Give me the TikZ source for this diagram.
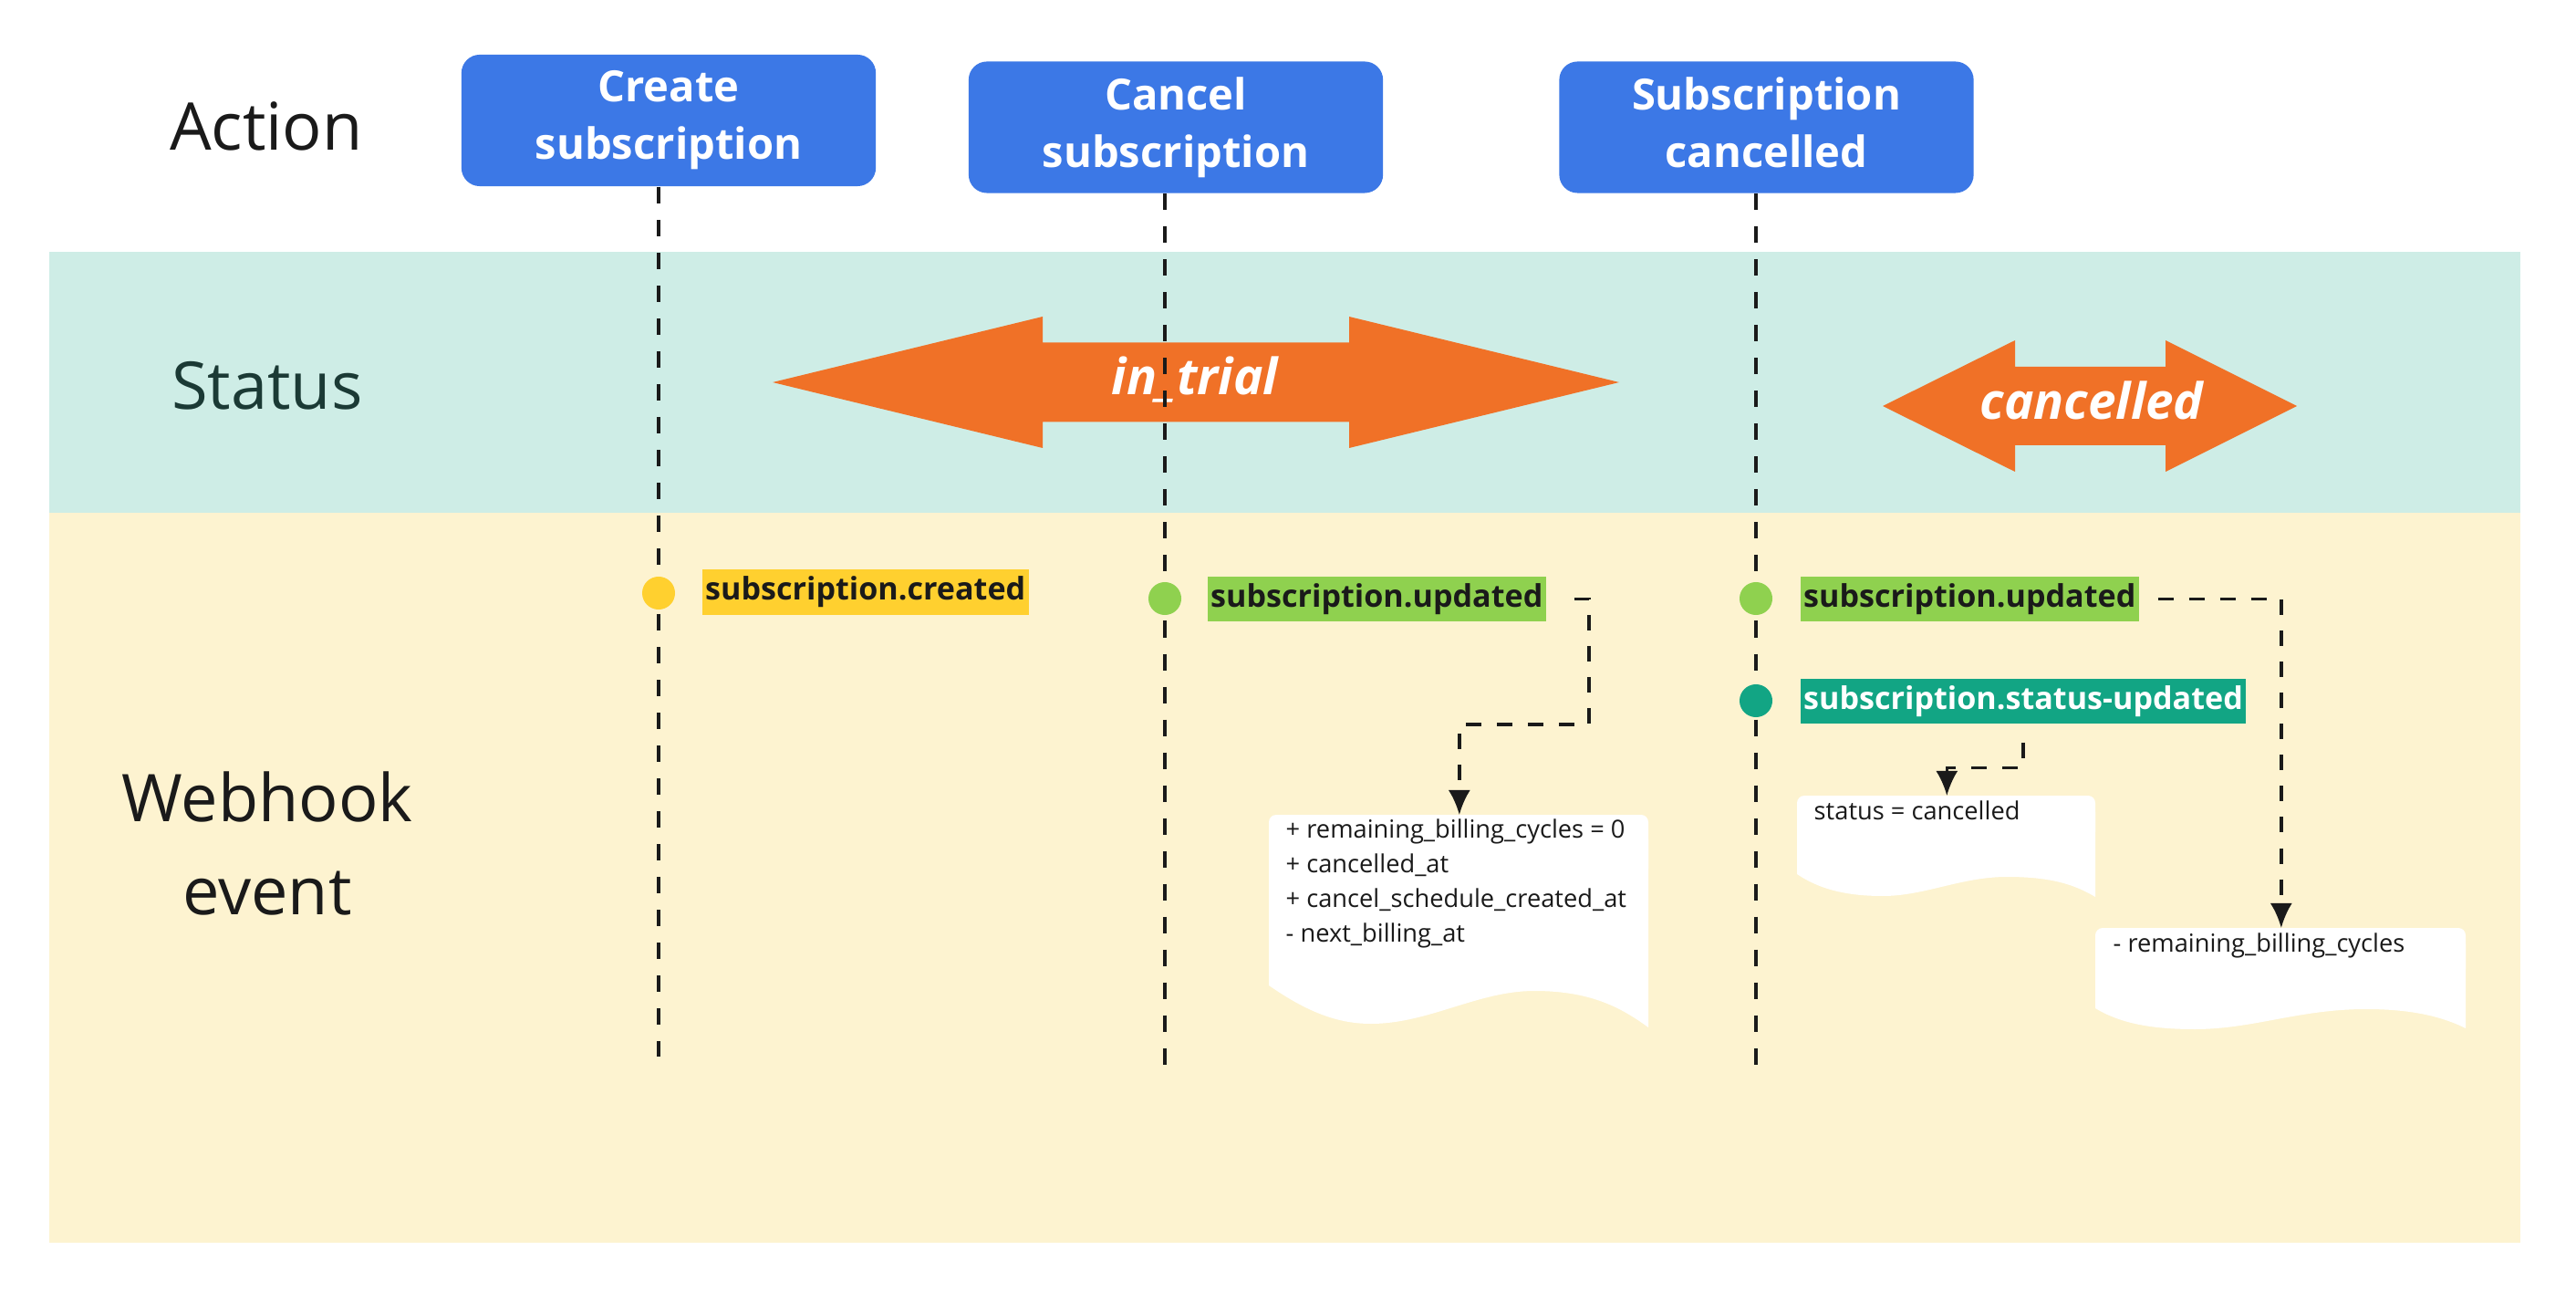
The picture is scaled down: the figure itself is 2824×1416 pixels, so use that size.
\documentclass[tikz,border=0pt]{standalone}
\usepackage{fontspec}
\setmainfont{Open Sans}
\usetikzlibrary{arrows.meta,calc}
\definecolor{ink}{HTML}{1A1A1A}
\definecolor{statink}{HTML}{1B3A35}
\definecolor{actblue}{HTML}{3C78E6}
\definecolor{statband}{HTML}{CEEDE6}
\definecolor{hookband}{HTML}{FDF3D0}
\definecolor{arrorange}{HTML}{F07127}
\definecolor{evyellow}{HTML}{FFD02F}
\definecolor{evgreen}{HTML}{8FD14F}
\definecolor{evteal}{HTML}{12A584}
\tikzset{
  timeline/.style={line width=1.1pt, dash pattern=on 0.18cm off 0.18cm, draw=ink},
  conn/.style={line width=0.95pt, dash pattern=on 0.17cm off 0.17cm, draw=ink, -{Latex[length=0.27cm,width=0.24cm]}},
  actionbox/.style={fill=actblue, rounded corners=0.2cm, text=white, font=\bfseries\fontsize{13.4}{17.9}\selectfont, align=center, minimum width=4.54cm, minimum height=1.44cm, inner sep=0},
  rowlabel/.style={font=\fontsize{20.5}{28.7}\selectfont, text=ink, anchor=base},
  evdot/.style={circle, minimum size=0.36cm, inner sep=0},
  evlabel/.style={anchor=west, font=\bfseries\fontsize{9.7}{11}\selectfont, inner xsep=0.035cm, inner ysep=0, minimum height=0.49cm},
  doctext/.style={font=\fontsize{7.75}{10.8}\selectfont, text=ink, align=left, anchor=north west, inner sep=0},
  stattext/.style={text=white, font=\bfseries\itshape\fontsize{15.6}{17}\selectfont, anchor=base},
  docanchor/.style={inner sep=0, anchor=north west, minimum height=0.2cm}
}
\begin{document}
\begin{tikzpicture}[x=0.01cm, y=-0.01cm]
\useasboundingbox (0,0) rectangle (2824,1416);
\fill[white] (0,0) rectangle (2824,1416);
% bands
\fill[statband] (54,276) rectangle (2763,562);
\fill[hookband] (54,562) rectangle (2763,1362);
% row labels
\node[rowlabel] (lblaction) at (292,165) {Action};
\node[rowlabel, text=statink] (lblstatus) at (293,449) {Status};
\node[rowlabel] (lblhook1) at (293,900) {Webhook};
\node[rowlabel] (lblhook2) at (293,1002) {event};
% status arrows
\fill[arrorange] (847,419) -- (1143,347) -- (1143,375.5) -- (1479,375.5) -- (1479,347) -- (1775,419) -- (1479,491) -- (1479,462.5) -- (1143,462.5) -- (1143,491) -- cycle;
\node[stattext] (sttrial) at (1310,433) {in\_trial};
\fill[arrorange] (2064,445) -- (2209,373) -- (2209,402) -- (2374,402) -- (2374,373) -- (2518,445) -- (2374,517) -- (2374,488) -- (2209,488) -- (2209,517) -- cycle;
\node[stattext] (stcanc) at (2293,460) {cancelled};
% document boxes
\fill[white, rounded corners=0.08cm] (1391,893) rectangle (1807,960);
\fill[white] (1391,920) -- (1807,920) -- (1807,1126) .. controls (1778,1105) and (1745,1086) .. (1682,1086) .. controls (1620,1086) and (1566,1122) .. (1503,1122) .. controls (1466,1122) and (1433,1109) .. (1391,1080) -- cycle;
\node[docanchor, minimum width=4.16cm] (docA) at (1391,893) {};
\node[doctext] (docAtext) at (1409,897) {+ remaining\_billing\_cycles = 0\\+ cancelled\_at\\+ cancel\_schedule\_created\_at\\- next\_billing\_at};
\fill[white, rounded corners=0.08cm] (1970,872) rectangle (2297,920);
\fill[white] (1970,890) -- (2297,890) -- (2297,983) .. controls (2275,970) and (2250,961) .. (2200,961) .. controls (2150,961) and (2110,982) .. (2064,982) .. controls (2025,982) and (1995,975) .. (1970,958) -- cycle;
\node[docanchor, minimum width=3.27cm] (docB) at (1970,872) {};
\node[doctext] (docBtext) at (1988,877) {status = cancelled};
\fill[white, rounded corners=0.08cm] (2297,1017) rectangle (2703,1070);
\fill[white] (2297,1035) -- (2703,1035) -- (2703,1127) .. controls (2675,1113) and (2640,1106) .. (2594,1106) .. controls (2520,1106) and (2470,1128) .. (2406,1128) .. controls (2360,1128) and (2325,1122) .. (2297,1105) -- cycle;
\node[docanchor, minimum width=4.06cm] (docC) at (2297,1017) {};
\node[doctext] (docCtext) at (2316,1022) {- remaining\_billing\_cycles};
% action boxes
\node[actionbox] (act1) at (733,132) {Create\\subscription};
\node[actionbox] (act2) at (1289,139.5) {Cancel\\subscription};
\node[actionbox] (act3) at (1936.5,139.5) {Subscription\\cancelled\vphantom{p}};
% timelines and event dots
\coordinate (end1) at (722,1158);
\coordinate (end2) at (1277,1176);
\coordinate (end3) at (1925,1176);
\draw[timeline] (act1.south -| end1) -- (end1);
\draw[timeline] (act2.south -| end2) -- (end2);
\draw[timeline] (act3.south -| end3) -- (end3);
\node[evdot, fill=evyellow] (dot1) at (722,650) {};
\node[evdot, fill=evgreen] (dot2) at (1277,656) {};
\node[evdot, fill=evgreen] (dot3) at (1925,656) {};
\node[evdot, fill=evteal] (dot4) at (1925,768) {};
% event labels
\node[evlabel, fill=evyellow, text=ink] (lab1) at (769,649) {subscription.created};
\node[evlabel, fill=evgreen, text=ink] (lab2) at (1323,656.5) {subscription.updated};
\node[evlabel, fill=evgreen, text=ink] (lab3) at (1973,656.5) {subscription.updated};
\node[evlabel, fill=evteal, text=white] (lab4) at (1973,768.5) {subscription.status-updated};
% connectors
\coordinate (bendA) at (1742,794);
\coordinate (bendB) at ($(lab4.south)+(0,48)$);
\draw[conn] ([xshift=0.3cm]lab2.east) -| (bendA) -| (docA.north);
\draw[conn] ([xshift=0.2cm]lab3.east) -| (docC.north);
\draw[conn] ([yshift=-0.2cm]lab4.south) -- (bendB) -| (docB.north);
\end{tikzpicture}
\end{document}
